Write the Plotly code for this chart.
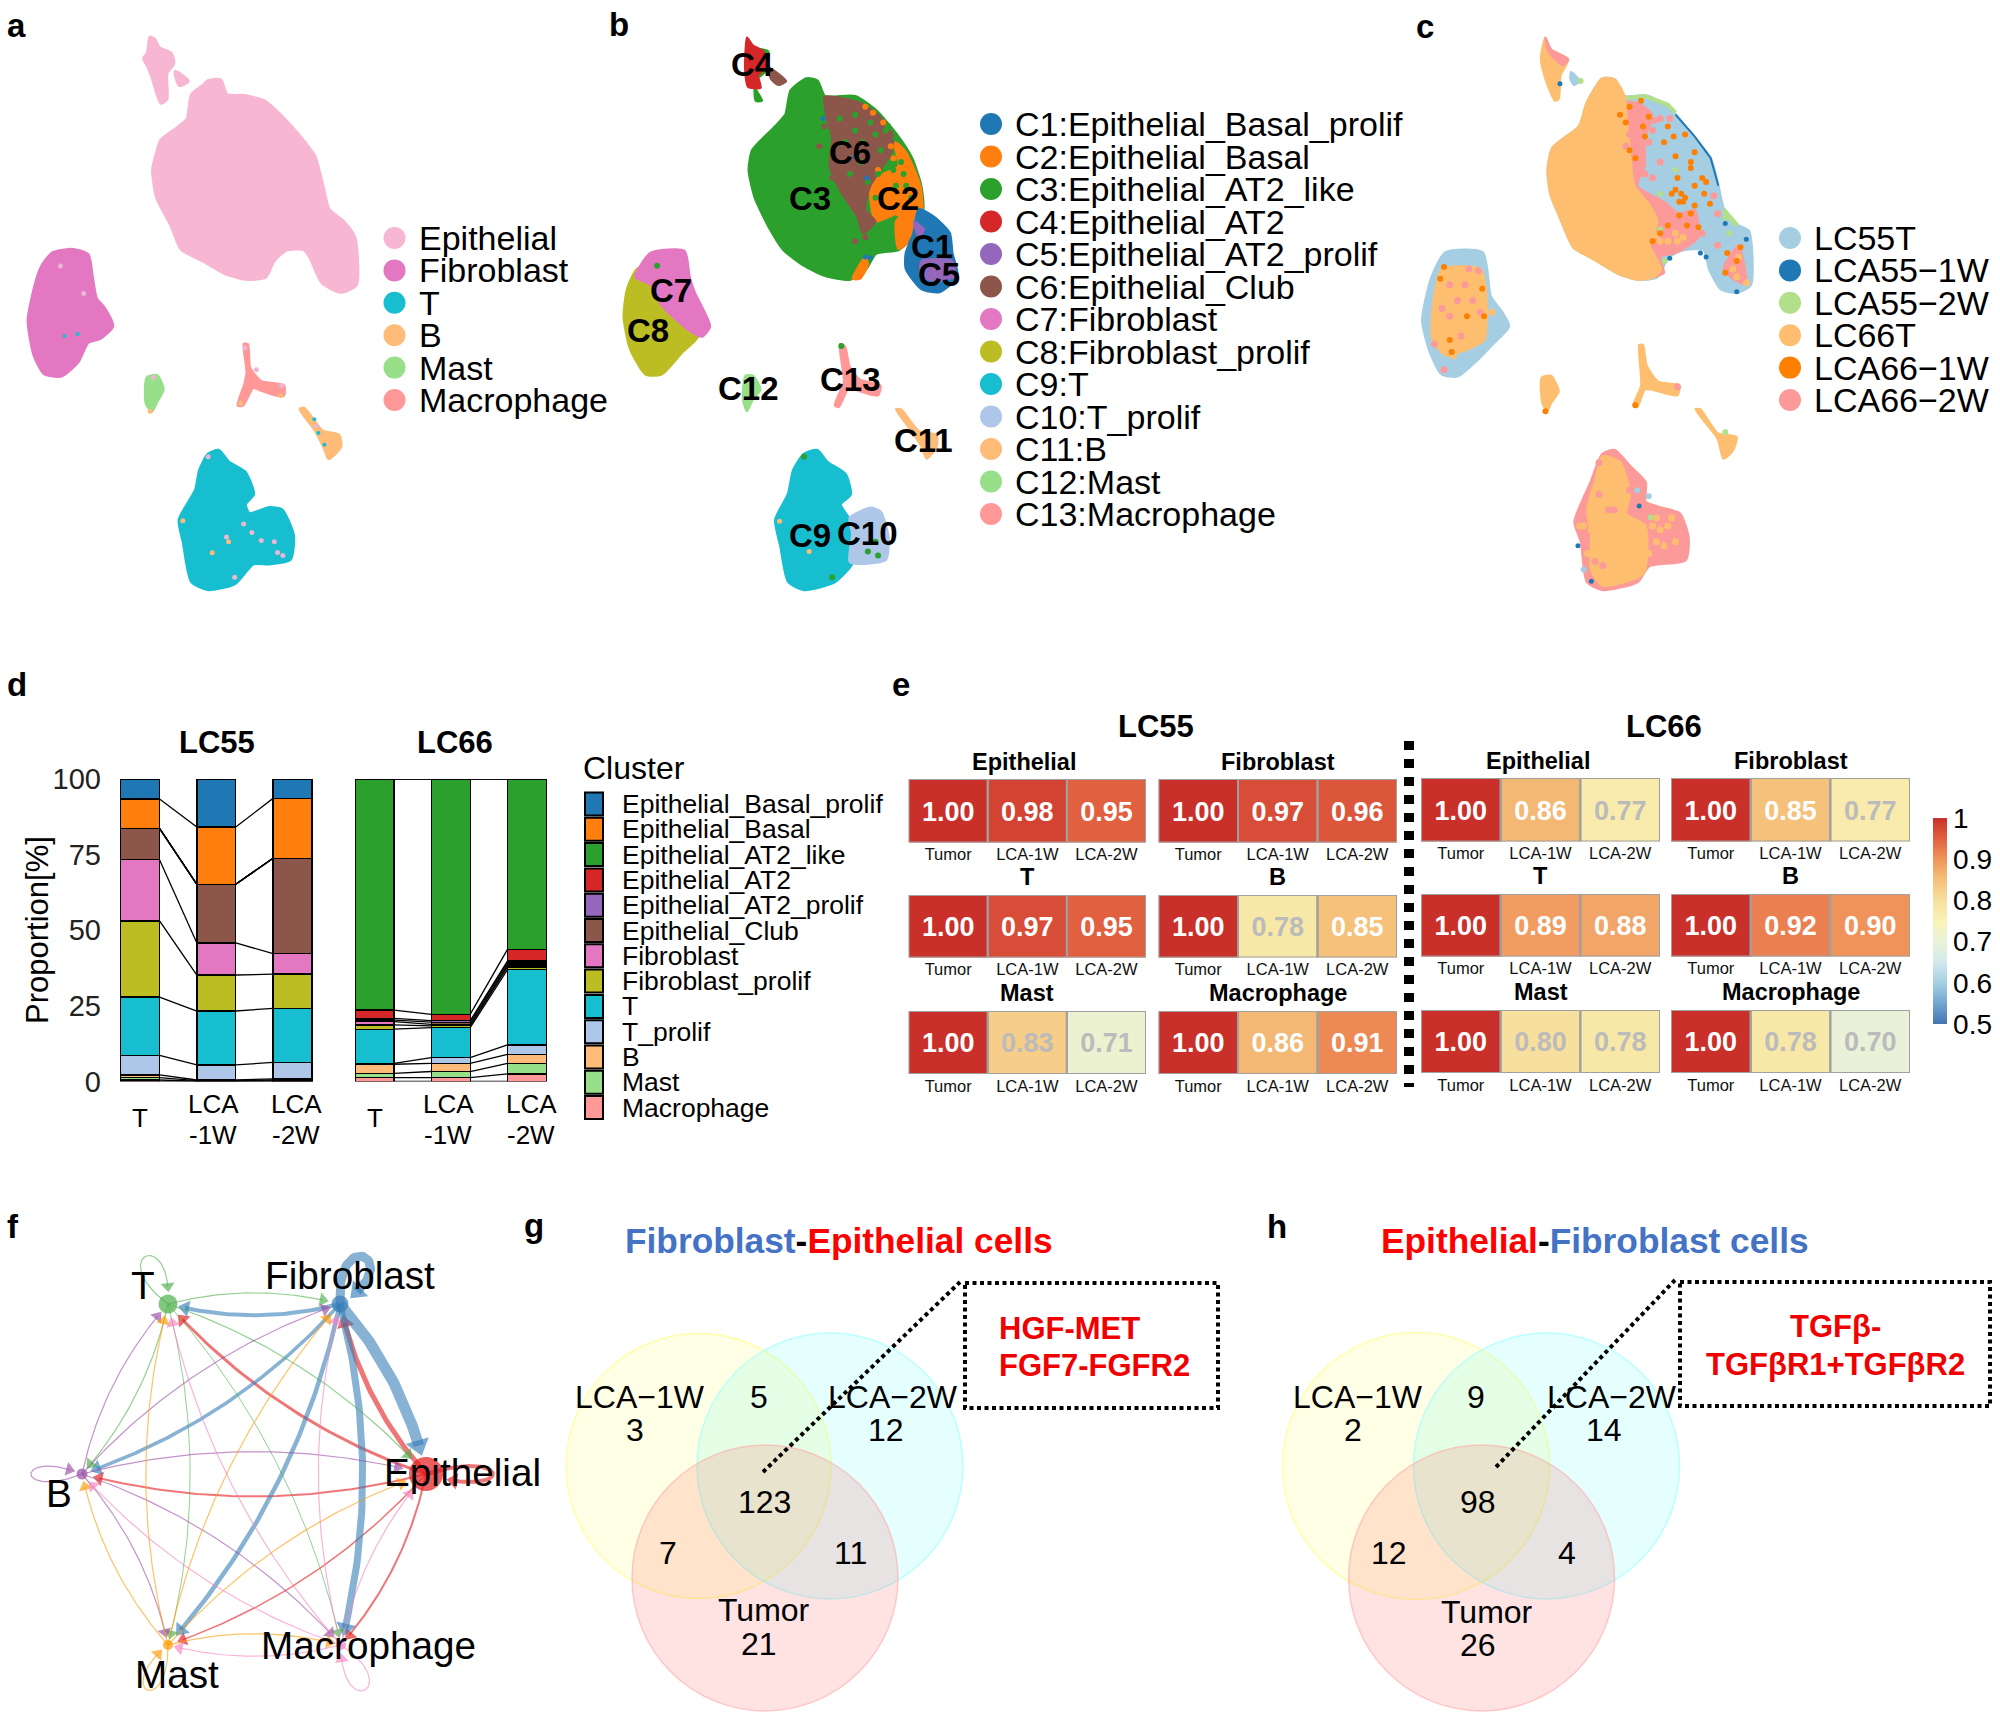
import math
import plotly.graph_objects as go

W, H = 2000, 1719
FONT = "Liberation Sans"

# ---------- panel a : UMAP outlines ----------
A_EPI_MAIN = [(510,205),(540,203),(555,240),(600,243),(650,258),(690,295),(730,340),(770,395),(790,470),(805,530),(840,560),(868,600),(872,720),(835,738),(790,715),(760,650),(745,630),(700,632),(670,660),(650,700),(600,705),(550,690),(500,660),(445,630),(420,570),(385,500),(375,430),(385,385),(395,355),(440,320),(460,300),(470,240),(500,215)]
A_EPI_TOP = [(368,95),(378,100),(390,122),(418,135),(425,160),(408,185),(408,250),(395,260),(385,235),(375,200),(362,165),(353,148),(362,135),(365,115)]
A_EPI_BIT = [(430,182),(460,205),(440,215)]
A_FIB = [(130,640),(180,632),(215,645),(225,700),(235,755),(255,780),(275,825),(245,855),(215,865),(190,915),(150,950),(110,945),(85,900),(70,810),(90,710),(105,670)]
A_MAST = [(360,955),(385,950),(400,985),(385,1015),(372,1040),(358,1020)]
A_MAC = [(598,870),(607,872),(612,930),(640,965),(695,975),(695,1000),(680,1000),(635,985),(620,980),(595,1025),(583,1025),(600,970),(605,940)]
A_B = [(735,1035),(745,1032),(790,1090),(830,1100),(835,1130),(805,1160),(795,1135),(770,1085)]
A_T = [(510,1150),(535,1140),(560,1170),(600,1195),(620,1250),(600,1275),(610,1300),(660,1285),(690,1290),(718,1355),(710,1415),(660,1425),(620,1425),(575,1475),(510,1490),(470,1470),(450,1370),(440,1315),(480,1240),(490,1190)]
A_DOTS_PINK = [(597,1325),(617,1347),(640,1367),(672,1370),(680,1397),(693,1405),(575,1460),(510,1155),(555,1358),(148,673),(205,742),(376,955),(690,975),(600,880),(628,935),(775,1077)]
A_DOTS_PEACH = [(448,1317),(520,1398),(560,1370),(590,1020),(688,1000),(368,1040)]
A_DOTS_TEAL = [(158,850),(190,845),(770,1060),(780,1095),(795,1125)]
A_LEGEND = ["Epithelial", "Fibroblast", "T", "B", "Mast", "Macrophage"]
A_COLORS = ["#f7b6d2", "#e377c2", "#17becf", "#ffbb78", "#98df8a", "#ff9896"]

# ---------- panel b : cluster outlines ----------
B_C3 = [(405,200),(425,205),(440,245),(500,245),(540,280),(580,340),(610,400),(628,470),(632,530),(610,600),(585,630),(540,640),(520,680),(490,705),(440,695),(400,670),(360,630),(335,580),(305,500),(293,430),(300,380),(345,320),(365,290),(375,230)]
B_C6 = [(440,245),(510,260),(545,290),(575,345),(570,390),(555,420),(530,470),(520,530),(540,560),(515,590),(505,550),(470,480),(450,420),(455,350),(445,300)]
B_C2A = [(575,355),(600,385),(628,470),(632,530),(615,600),(585,630),(580,560),(600,530),(540,560),(530,470),(555,440),(585,420)]
B_C2B = [(520,650),(525,670),(510,705),(495,705)]
B_C1 = [(625,530),(655,550),(685,590),(690,640),(700,700),(665,738),(630,730),(600,680),(600,640),(615,590)]
B_C5A = [(630,660),(690,660),(695,700),(660,710),(630,700)]
B_C5B = [(615,560),(635,580),(625,600)]
B_C4 = [(288,95),(300,115),(320,130),(325,170),(310,190),(315,222),(290,220),(285,190),(285,130)]
B_C4G = [(310,125),(330,130),(325,180),(300,210),(318,255),(305,255)]
B_C6T = [(330,170),(365,205),(350,215),(335,200)]
B_C7 = [(100,640),(165,635),(175,700),(185,740),(215,825),(200,850),(170,830),(120,770),(100,720),(70,700)]
B_C8 = [(75,680),(100,720),(120,770),(165,800),(180,840),(205,825),(185,860),(160,890),(120,945),(90,945),(60,880),(48,800),(55,730)]
B_C12 = [(285,950),(300,950),(315,985),(300,1010),(288,1040),(280,1010)]
B_C13 = [(470,870),(480,875),(490,930),(510,960),(550,975),(545,1000),(500,985),(490,975),(468,1030),(460,1025),(478,965),(475,930)]
B_C11 = [(580,1035),(590,1035),(625,1090),(660,1100),(660,1130),(640,1160),(630,1130),(610,1090)]
B_C9 = [(400,1150),(425,1140),(445,1170),(480,1200),(490,1250),(470,1275),(490,1320),(495,1420),(460,1470),(400,1490),(370,1470),(355,1380),(345,1315),(370,1250),(380,1190)]
B_C10 = [(490,1310),(530,1285),(550,1295),(565,1360),(560,1415),(520,1425),(490,1420),(495,1350)]
B_DOTS_GREEN = [(560,330),(550,380),(575,430),(595,440),(600,470),(580,470),(545,440),(510,410),(470,300),(500,330),(530,310),(490,440),(525,460),(610,500),(540,500),(590,410),(565,320),(580,350),(540,340),(515,360),(480,360),(500,290),(525,1395),(545,1405),(455,1460),(400,1155),(540,1370),(473,875),(112,672)]
B_DOTS_BROWN = [(440,320),(430,370),(480,270),(455,450),(520,600),(500,610)]
B_DOTS_BLUE = [(520,650),(530,652),(523,450),(437,300),(500,395),(610,610)]
B_DOTS_ORANGE = [(545,430),(560,450),(575,400),(600,430),(610,450),(620,490),(590,500),(565,490),(545,525),(585,540),(605,520),(520,270),(535,285),(555,310),(570,370)]
B_DOTS_PEACH = [(352,1318),(410,1395)]
B_LABELS = ["C3","C6","C2","C1","C5","C4","C7","C8","C12","C13","C11","C9","C10"]
B_LABEL_X = [412,490,585,650,665,298,140,95,292,490,634,412,525]
B_LABEL_Y = [503,385,503,623,693,163,735,835,982,960,1115,1355,1350]

# ---------- clusters, shared by b and d ----------
CLUSTERS = ["Epithelial_Basal_prolif","Epithelial_Basal","Epithelial_AT2_like","Epithelial_AT2","Epithelial_AT2_prolif","Epithelial_Club","Fibroblast","Fibroblast_prolif","T","T_prolif","B","Mast","Macrophage"]
CL_COLORS = ["#1f77b4","#ff7f0e","#2ca02c","#d62728","#9467bd","#8c564b","#e377c2","#bcbd22","#17becf","#aec7e8","#ffbb78","#98df8a","#ff9896"]

# ---------- panel c : sample outlines and dots ----------
C_MAIN = [(530,200),(560,203),(585,245),(640,243),(700,270),(760,340),(810,400),(830,470),(845,530),(880,570),(910,585),(915,720),(880,738),(840,730),(810,680),(795,630),(735,632),(700,650),(670,700),(620,705),(570,690),(500,650),(455,625),(420,550),(395,490),(388,430),(400,375),(470,320),(490,260)]
C_PEACH = [(530,200),(560,203),(585,245),(590,300),(600,400),(610,470),(650,520),(670,560),(650,620),(680,680),(660,700),(620,705),(570,690),(500,650),(455,625),(420,550),(395,490),(388,430),(400,375),(470,320),(490,260)]
C_PINK = [(570,260),(620,260),(660,290),(640,350),(640,420),(620,470),(690,510),(730,540),(770,530),(780,600),(720,640),(680,650),(690,690),(660,700),(640,630),(670,560),(650,520),(610,470),(600,400),(590,300)]
C_TIP = [(885,620),(905,720),(870,705),(845,680),(860,650)]
C_RIM_GREEN = [(590,248),(640,243),(700,265),(720,285)]
C_RIM_BLUE = [(720,290),(770,345),(812,400),(832,470)]
C_RIM_GREEN2 = [(845,530),(880,570)]
C_TOP = [(380,95),(395,125),(440,150),(420,190),(415,250),(405,255),(380,200),(368,148)]
C_TOP_PINK = [(380,95),(395,125),(440,150),(425,165),(395,140),(385,125)]
C_ISLAND = [(447,182),(470,205),(455,215),(445,200)]
C_FIB = [(120,640),(215,640),(235,750),(265,790),(283,825),(240,870),(200,910),(150,950),(110,945),(80,890),(60,810),(85,700)]
C_FIB_PEACH = [(110,680),(210,680),(225,740),(220,860),(160,890),(120,900),(85,860),(85,780)]
C_MAST = [(370,955),(395,950),(415,990),(395,1020),(385,1040),(372,1020)]
C_MAC = [(625,872),(635,872),(645,925),(675,965),(730,975),(725,1000),(655,985),(640,985),(620,1030),(610,1025),(630,975)]
C_B = [(772,1035),(785,1035),(830,1095),(880,1105),(870,1140),(845,1160),(830,1110)]
C_T = [(530,1150),(560,1140),(600,1180),(640,1220),(640,1270),(680,1285),(730,1300),(752,1360),(745,1415),(650,1430),(620,1470),(530,1490),(490,1470),(475,1370),(458,1320),(500,1220)]
C_T_PEACH = [(530,1155),(575,1170),(600,1250),(590,1300),(640,1330),(635,1450),(530,1480),(500,1440),(500,1350),(490,1290),(510,1220)]
C_DOTS_ORANGE = [(630,255),(600,270),(575,290),(590,310),(635,320),(650,295),(700,320),(715,345),(690,360),(640,345),(600,380),(615,400),(745,340),(770,385),(760,410),(720,395),(725,450),(760,425),(790,450),(800,460),(770,470),(795,490),(720,480),(735,490),(745,500),(710,490),(730,510),(770,520),(810,515),(760,540),(730,545),(750,570),(780,575),(680,590),(660,610),(700,570),(740,510),(850,690),(880,660),(890,625),(855,640),(115,675),(105,705),(215,730),(130,860),(175,800),(135,890),(220,800),(615,1025),(380,1040)]
C_DOTS_PEACH = [(700,610),(720,590),(680,610),(670,595),(725,610),(740,600),(650,600),(870,680),(880,700),(905,715),(885,650),(470,1330),(480,1330),(500,1340),(560,1330),(600,1340),(620,1360),(640,1370),(660,1330),(680,1340),(700,1330),(670,1370),(690,1380),(720,1370),(650,1400),(600,1400),(580,1360),(490,1400),(710,1310),(670,1310),(140,900),(240,790)]
C_DOTS_PINK = [(680,410),(820,495),(830,540),(600,340),(625,375),(590,370),(620,300),(680,300),(660,330),(705,300),(720,600),(705,600),(690,550),(705,540),(610,290),(640,280),(665,305),(610,330),(650,360),(625,410),(640,440),(660,450),(790,590),(830,620),(180,680),(205,685),(90,870),(115,935),(130,800),(160,850),(190,760),(130,720),(170,720),(110,780),(210,790),(150,760),(560,1290),(545,1290),(520,1170),(530,1430),(510,1420),(520,1250),(610,1215),(600,1240),(725,978)]
C_DOTS_GREEN = [(720,430),(680,490),(680,580),(860,590),(850,550),(600,380),(472,205),(655,1308),(850,1093),(692,660)]
C_DOTS_BLUE = [(705,653),(785,640),(800,650),(850,565),(905,605),(880,738),(418,212),(625,1280),(465,1380),(500,1470)]
C_DOTS_LIGHT = [(650,1255),(620,1240),(480,1440),(240,860),(260,820)]
C_LEGEND = ["LC55T","LCA55\u22121W","LCA55\u22122W","LC66T","LCA66\u22121W","LCA66\u22122W"]
C_COLORS = ["#a6cee3","#1f78b4","#b2df8a","#fdbf6f","#ff7f00","#fb9a99"]

# ---------- panel d : proportions, listed in CLUSTERS order ----------
LC55_T = [6.6,9.7,0,0,0,10.4,20.2,25.2,19.3,6.4,0.9,0.8,0.5]
LC55_1W = [15.9,18.9,0,0,0,19.4,10.6,11.9,17.8,5.0,0.2,0.2,0.1]
LC55_2W = [6.4,19.8,0,0,0,31.5,6.8,11.3,17.9,5.4,0.4,0.3,0.2]
LC66_T = [0,0,76.4,2.7,0.6,0.5,1.1,1.4,11.3,0.3,3.0,1.4,1.3]
LC66_1W = [0,0,77.8,2.1,0.5,0.7,0.5,0.6,9.9,1.9,2.7,2.0,1.3]
LC66_2W = [0,0,56.3,3.9,0.6,0.7,0.6,0.9,24.9,3.1,3.0,3.5,2.5]
D_TICKS = [0, 25, 50, 75, 100]
D_GROUP1 = ["T", "LCA", "LCA"]
D_GROUP2 = ["", "-1W", "-2W"]

# ---------- panel e ----------
HEAT_TITLES = ["Epithelial","Fibroblast","T","B","Mast","Macrophage"]
HEAT_LABELS = ["Tumor","LCA-1W","LCA-2W"]
LC55_HEAT = [[1.00,0.98,0.95],[1.00,0.97,0.96],[1.00,0.97,0.95],[1.00,0.78,0.85],[1.00,0.83,0.71],[1.00,0.86,0.91]]
LC66_HEAT = [[1.00,0.86,0.77],[1.00,0.85,0.77],[1.00,0.89,0.88],[1.00,0.92,0.90],[1.00,0.80,0.78],[1.00,0.78,0.70]]

# ---------- panel f ----------
NET_NAMES = ["Epithelial","Fibroblast","T","B","Mast","Macrophage"]
NET_COLORS = ["#e41a1c","#377eb8","#4daf4a","#984ea3","#ff9a00","#f781bf"]
NET_X = [426,340,168,82,168,341]
NET_Y = [1474,1304,1304,1474,1645,1645]
NET_DIAM = [34,17,19,11,10,10]
NET_WEIGHTS = [
    [4.0,5.0,3.0,2.0,1.5,2.0],
    [11.0,9.0,4.0,3.5,4.5,7.0],
    [1.2,1.2,1.2,1.2,1.0,1.0],
    [1.2,1.2,1.2,1.2,1.2,1.2],
    [1.2,1.2,1.2,1.2,1.2,1.3],
    [1.2,1.2,1.2,1.2,1.2,1.2],
]
NET_LOOP_ANGLE = [0,-62,-115,180,115,62]
NET_LOOP_LEN = [70,62,60,55,55,58]
NET_LOOP_SPREAD = [0.3,0.55,0.5,0.38,0.45,0.5]

# ---------- panels g, h ----------
G_TITLE = ('<b><span style="color:#4472c4">Fibroblast</span><span style="color:#000">-</span>'
           '<span style="color:#f00">Epithelial cells</span></b>')
H_TITLE = ('<b><span style="color:#f00">Epithelial</span><span style="color:#000">-</span>'
           '<span style="color:#4472c4">Fibroblast cells</span></b>')
G_TEXTS = ["LCA\u22121W","3","5","LCA\u22122W","12","123","7","11","Tumor","21"]
G_TX = [640,635,759,893,886,764,668,850,764,759]
G_TY = [1397,1430,1397,1397,1430,1502,1553,1553,1610,1644]
H_TEXTS = ["LCA\u22121W","2","9","LCA\u22122W","14","98","12","4","Tumor","26"]
H_TX = [1358,1353,1476,1612,1604,1478,1389,1567,1487,1478]
H_TY = [1397,1430,1397,1397,1430,1502,1553,1553,1612,1645]
G_CIRCLES = [(698.6,1466,132.5),(830,1466,133),(765,1578,133)]
H_CIRCLES = [(1416,1466,133.5),(1546.5,1466,133),(1481.6,1578,133)]
VENN_FILL = ["rgba(255,255,0,0.10)","rgba(0,255,255,0.10)","rgba(255,0,0,0.11)"]
VENN_EDGE = ["rgba(255,255,120,0.6)","rgba(150,255,255,0.6)","rgba(255,170,170,0.6)"]

# ===================================================================
fig = go.Figure()
layout = dict(
    width=W, height=H, margin=dict(l=0, r=0, t=0, b=0, pad=0, autoexpand=False), autosize=False,
    paper_bgcolor="white", plot_bgcolor="rgba(0,0,0,0)", showlegend=False,
    font=dict(family=FONT, color="black"), barmode="stack",
)
shapes, annots = [], []


def make_axis(n, px0, px1, py0, py1, xr, yr, xkw=None, ykw=None):
    sfx = "" if n == 1 else str(n)
    base = dict(showgrid=False, zeroline=False, showline=False, fixedrange=True, visible=False)
    xa = dict(base, domain=[px0 / W, px1 / W], range=xr, anchor="y" + sfx)
    ya = dict(base, domain=[1 - py1 / H, 1 - py0 / H], range=yr, anchor="x" + sfx)
    xa.update(xkw or {})
    ya.update(ykw or {})
    layout["xaxis" + sfx] = xa
    layout["yaxis" + sfx] = ya
    return "x" + sfx, "y" + sfx


def text(t, x, y, size, anchor="center", bold=False, color="black", angle=0):
    annots.append(dict(text=f"<b>{t}</b>" if bold else t, x=x, y=y, xref="x", yref="y",
                       showarrow=False, xanchor=anchor, yanchor="middle", textangle=angle,
                       font=dict(size=size, family=FONT, color=color)))


def poly(ax, pts, color, lw=2):
    fig.add_trace(go.Scatter(x=[p[0] for p in pts] + [pts[0][0]], y=[p[1] for p in pts] + [pts[0][1]],
                             mode="lines", fill="toself", fillcolor=color,
                             line=dict(color=color, width=lw, shape="spline", smoothing=0.6),
                             xaxis=ax[0], yaxis=ax[1], hoverinfo="skip"))


def dots(ax, pts, color, size=5):
    fig.add_trace(go.Scatter(x=[p[0] for p in pts], y=[p[1] for p in pts], mode="markers",
                             marker=dict(color=color, size=size, line=dict(width=0)),
                             xaxis=ax[0], yaxis=ax[1], hoverinfo="skip"))


def rim(ax, pts, color, lw=3):
    fig.add_trace(go.Scatter(x=[p[0] for p in pts], y=[p[1] for p in pts], mode="lines",
                             line=dict(color=color, width=lw), xaxis=ax[0], yaxis=ax[1], hoverinfo="skip"))


# overlay axis in page pixels, carries text, keys, network and Venn
OV = make_axis(1, 0, W, 0, H, [0, W], [H, 0])

# --- panel a
AX_A = make_axis(2, 0, 640, 0, 620, [0, 1568], [1568, 0])
for shape in (A_EPI_MAIN, A_EPI_TOP, A_EPI_BIT):
    poly(AX_A, shape, A_COLORS[0], 4)
poly(AX_A, A_FIB, A_COLORS[1], 4)
poly(AX_A, A_T, A_COLORS[2], 4)
poly(AX_A, A_B, A_COLORS[3], 3)
poly(AX_A, A_MAST, A_COLORS[4], 3)
poly(AX_A, A_MAC, A_COLORS[5], 3)
dots(AX_A, A_DOTS_PINK, "#eab8d4")
dots(AX_A, A_DOTS_PEACH, A_COLORS[3])
dots(AX_A, A_DOTS_TEAL, A_COLORS[2], 4)

# --- panel b
AX_B = make_axis(3, 600, 1400, 0, 620, [0, 1568], [1568, 0])
C_ = dict(zip(range(1, 14), CL_COLORS))
poly(AX_B, B_C3, C_[3], 4)
poly(AX_B, B_C2A, C_[2], 2)
poly(AX_B, B_C2B, C_[2], 2)
poly(AX_B, B_C6, C_[6], 2)
poly(AX_B, B_C1, C_[1], 3)
poly(AX_B, B_C5A, C_[5], 2)
poly(AX_B, B_C5B, C_[5], 2)
poly(AX_B, B_C4G, C_[3], 2)
poly(AX_B, B_C4, C_[4], 2)
poly(AX_B, B_C6T, C_[6], 2)
poly(AX_B, B_C8, C_[8], 4)
poly(AX_B, B_C7, C_[7], 3)
poly(AX_B, B_C12, C_[12], 2)
poly(AX_B, B_C13, C_[13], 2)
poly(AX_B, B_C11, C_[11], 2)
poly(AX_B, B_C9, C_[9], 4)
poly(AX_B, B_C10, C_[10], 3)
dots(AX_B, B_DOTS_ORANGE, C_[2], 6)
dots(AX_B, B_DOTS_GREEN, C_[3], 6)
dots(AX_B, B_DOTS_BROWN, C_[6], 6)
dots(AX_B, B_DOTS_BLUE, C_[1], 5)
dots(AX_B, B_DOTS_PEACH, C_[11], 5)
for t, x, y in zip(B_LABELS, B_LABEL_X, B_LABEL_Y):
    text(t, 600 + x * 800 / 1568, y * 620 / 1568, 33, bold=True)

# --- panel c
AX_C = make_axis(4, 1400, 2000, 0, 620, [0, 1568], [1568, 0])
cc = C_COLORS
poly(AX_C, C_MAIN, cc[0], 4)
rim(AX_C, C_RIM_GREEN, cc[2], 4)
rim(AX_C, C_RIM_BLUE, cc[1], 2)
rim(AX_C, C_RIM_GREEN2, cc[2], 5)
poly(AX_C, C_PINK, cc[5], 2)
poly(AX_C, C_PEACH, cc[3], 4)
poly(AX_C, C_TIP, cc[5], 2)
poly(AX_C, C_TOP, cc[3], 2)
poly(AX_C, C_TOP_PINK, cc[5], 2)
poly(AX_C, C_ISLAND, cc[0], 2)
poly(AX_C, C_FIB, cc[0], 4)
poly(AX_C, C_FIB_PEACH, cc[3], 2)
poly(AX_C, C_MAST, cc[3], 2)
poly(AX_C, C_MAC, cc[3], 2)
poly(AX_C, C_B, cc[3], 2)
poly(AX_C, C_T, cc[5], 4)
poly(AX_C, C_T_PEACH, cc[3], 3)
dots(AX_C, C_DOTS_LIGHT, cc[0], 6)
dots(AX_C, C_DOTS_PINK, cc[5], 7)
dots(AX_C, C_DOTS_PEACH, cc[3], 7)
dots(AX_C, C_DOTS_GREEN, cc[2], 6)
dots(AX_C, C_DOTS_BLUE, cc[1], 5)
dots(AX_C, C_DOTS_ORANGE, cc[4], 6)


def circle_legend(names, colors, kx, tx, y0, dy):
    ys = [y0 + i * dy for i in range(len(names))]
    fig.add_trace(go.Scatter(x=[kx] * len(names), y=ys, mode="markers",
                             marker=dict(color=colors, size=22, line=dict(width=0)),
                             xaxis=OV[0], yaxis=OV[1], hoverinfo="skip"))
    for n, y in zip(names, ys):
        text(n, tx, y, 34, anchor="left")


circle_legend(A_LEGEND, A_COLORS, 394.5, 416.5, 238, 32.4)
circle_legend([f"C{i+1}:{c}" for i, c in enumerate(CLUSTERS)], CL_COLORS, 991, 1012.5, 124, 32.5)
circle_legend(C_LEGEND, C_COLORS, 1790, 1812, 238, 32.4)

# --- panel d
BAR_W = 0.51
D_TICKFONT = dict(size=29, family=FONT, color="#222")
AX_D1 = make_axis(5, 102, 330.6, 779, 1081.5, [-0.5, 2.5], [0, 100],
                  ykw=dict(visible=True, tickvals=D_TICKS, ticks="", tickfont=D_TICKFONT, ticklen=0))
AX_D2 = make_axis(6, 336.5, 565, 779, 1081.5, [-0.5, 2.5], [0, 100])


def stacked(ax, cols):
    for k in range(len(CLUSTERS) - 1, -1, -1):
        fig.add_trace(go.Bar(x=[0, 1, 2], y=[c[k] for c in cols], width=BAR_W,
                             marker=dict(color=CL_COLORS[k], line=dict(color="black", width=1.3)),
                             xaxis=ax[0], yaxis=ax[1], hoverinfo="skip"))
    for i in range(2):
        for k in range(len(CLUSTERS)):
            a = sum(cols[i][k + 1:])
            b = sum(cols[i + 1][k + 1:])
            fig.add_trace(go.Scatter(x=[i + BAR_W / 2, i + 1 - BAR_W / 2], y=[a, b], mode="lines",
                                     line=dict(color="black", width=1.3),
                                     xaxis=ax[0], yaxis=ax[1], hoverinfo="skip"))


stacked(AX_D1, [LC55_T, LC55_1W, LC55_2W])
stacked(AX_D2, [LC66_T, LC66_1W, LC66_2W])
text("LC55", 217, 742, 31, bold=True)
text("LC66", 455, 742, 31, bold=True)
text("Proportion[%]", 37, 930, 31, angle=-90)
for xs in ([140, 213, 296], [375, 448, 531]):
    text(D_GROUP1[0], xs[0], 1118, 26)
    for i in (1, 2):
        text(D_GROUP1[i], xs[i], 1104, 26)
        text(D_GROUP2[i], xs[i], 1135, 26)
text("Cluster", 581, 768, 32, anchor="left")
for i, (n, c) in enumerate(zip(CLUSTERS, CL_COLORS)):
    y = 804 + i * 25.3
    shapes.append(dict(type="rect", xref="x", yref="y", x0=585, x1=603, y0=y - 11.5, y1=y + 11.5,
                       fillcolor=c, line=dict(color="black", width=2)))
    text(n, 620, y, 26.5, anchor="left")

# --- panel e
HEAT_COLORS = [[0.0,"#4575b4"],[0.1,"#73a6cf"],[0.2,"#a5cfe3"],[0.3,"#d2e9ec"],[0.4,"#e9f2d8"],
               [0.5,"#f9f3b6"],[0.6,"#f7e09d"],[0.7,"#f5c17b"],[0.8,"#f0935b"],[0.9,"#e0603f"],[1.0,"#c9302a"]]
layout["coloraxis"] = dict(cmin=0.5, cmax=1, colorscale=HEAT_COLORS, colorbar=dict(
    x=1933 / W, xanchor="left", y=1 - 1024 / H, yanchor="bottom", len=206, lenmode="pixels",
    thickness=14, thicknessmode="pixels", outlinewidth=0, xpad=0, ypad=0, ticks="",
    tickvals=[0.5, 0.6, 0.7, 0.8, 0.9, 1], ticktext=["0.5", "0.6", "0.7", "0.8", "0.9", "1"],
    tickfont=dict(size=28, family=FONT, color="black")))
HEAT_COL_X = [(908.6, 1146), (1158.5, 1397), (1421, 1660), (1671, 1910)]
HEAT_ROW_Y = [(779, 842.5), (895, 957.5), (1011, 1074)]
HEAT_TITLE_Y = [762, 877, 993]
axn = 7
for side, vals in enumerate((LC55_HEAT, LC66_HEAT)):
    shift = -1 if side else 0
    for idx, row in enumerate(vals):
        cx0, cx1 = HEAT_COL_X[side * 2 + idx % 2]
        ry0, ry1 = HEAT_ROW_Y[idx // 2]
        ax = make_axis(axn, cx0, cx1, ry0 + shift, ry1 + shift, [-0.5, 2.5], [-0.5, 0.5],
                       xkw=dict(visible=True, tickvals=[0, 1, 2], ticktext=HEAT_LABELS, ticks="", ticklen=0,
                                tickangle=0, tickfont=dict(size=16.5, family=FONT, color="#111")))
        fig.add_trace(go.Heatmap(z=[row], x=[0, 1, 2], y=[0], coloraxis="coloraxis",
                                 xaxis=ax[0], yaxis=ax[1], hoverinfo="skip"))
        fig.add_trace(go.Scatter(x=[0, 1, 2], y=[-0.05] * 3, mode="text", text=[f"{v:.2f}" for v in row],
                                 textfont=dict(size=27, family=FONT, weight="bold",
                                               color=["#bbbbbb" if v <= 0.83 else "white" for v in row]),
                                 xaxis=ax[0], yaxis=ax[1], hoverinfo="skip"))
        for i in range(3):
            shapes.append(dict(type="rect", xref=ax[0], yref=ax[1], x0=i - 0.5, x1=i + 0.5, y0=-0.5, y1=0.5,
                               line=dict(color="#a0a0a0", width=2), fillcolor="rgba(0,0,0,0)"))
        title_dx = -3 if idx == 0 else 0
        text(HEAT_TITLES[idx], (cx0 + cx1) / 2 + title_dx, HEAT_TITLE_Y[idx // 2] + shift, 23.5, bold=True)
        axn += 1
text("LC55", 1156, 726, 31, bold=True)
text("LC66", 1664, 726, 31, bold=True)
shapes.append(dict(type="line", xref="x", yref="y", x0=1409, x1=1409, y0=741, y1=1087,
                   line=dict(color="black", width=10, dash="9px,9px")))


# --- panel f
def rgba(hex_color, a):
    r, g, b = (int(hex_color[i:i + 2], 16) for i in (1, 3, 5))
    return f"rgba({r},{g},{b},{a})"


def arrow(x, y, dx, dy, size, color):
    ang = math.degrees(math.atan2(dx, -dy))
    fig.add_trace(go.Scatter(x=[x], y=[y], mode="markers",
                             marker=dict(symbol="triangle-up", size=size, angle=ang, color=rgba(color, 0.65),
                                         line=dict(width=0)),
                             xaxis=OV[0], yaxis=OV[1], hoverinfo="skip"))


def bez_line(pts, width, color):
    fig.add_trace(go.Scatter(x=[p[0] for p in pts], y=[p[1] for p in pts], mode="lines",
                             line=dict(color=rgba(color, 0.6), width=width),
                             xaxis=OV[0], yaxis=OV[1], hoverinfo="skip"))


STEPS = [i / 60 for i in range(61)]
for s, name in enumerate(NET_NAMES):
    col = NET_COLORS[s]
    sx, sy = NET_X[s], NET_Y[s]
    for t in range(6):
        w = NET_WEIGHTS[s][t]
        asize = 11 + w * 0.9
        if s == t:
            a = math.radians(NET_LOOP_ANGLE[s])
            c = NET_LOOP_LEN[s] / 0.75
            sp = NET_LOOP_SPREAD[s]
            c1 = (sx + c * math.cos(a - sp), sy + c * math.sin(a - sp))
            c2 = (sx + c * math.cos(a + sp), sy + c * math.sin(a + sp))
            pts = []
            for u in STEPS:
                v = 1 - u
                pts.append((v**3 * sx + 3 * v * v * u * c1[0] + 3 * v * u * u * c2[0] + u**3 * sx,
                            v**3 * sy + 3 * v * v * u * c1[1] + 3 * v * u * u * c2[1] + u**3 * sy))
        else:
            tx, ty = NET_X[t], NET_Y[t]
            dx, dy = tx - sx, ty - sy
            cx, cy = (sx + tx) / 2 + 0.13 * dy, (sy + ty) / 2 - 0.13 * dx
            pts = [((1 - u)**2 * sx + 2 * u * (1 - u) * cx + u * u * tx,
                    (1 - u)**2 * sy + 2 * u * (1 - u) * cy + u * u * ty) for u in STEPS]
        rt = NET_DIAM[t] / 2
        keep = [p for i, p in enumerate(pts) if math.hypot(p[0] - NET_X[t], p[1] - NET_Y[t]) > rt + asize * 0.55 or i < 30]
        bez_line(keep, w, col)
        arrow(keep[-1][0], keep[-1][1], keep[-1][0] - keep[-2][0], keep[-1][1] - keep[-2][1], asize, col)
fig.add_trace(go.Scatter(x=NET_X, y=NET_Y, mode="markers",
                         marker=dict(color=NET_COLORS, size=NET_DIAM, line=dict(width=0)),
                         xaxis=OV[0], yaxis=OV[1], hoverinfo="skip"))
text("T", 143, 1285, 38.7)
text("Fibroblast", 350, 1275, 38.7)
text("Epithelial", 462, 1472, 38.7)
text("B", 59, 1493, 38.7)
text("Macrophage", 368, 1645, 38.7)
text("Mast", 177, 1674, 38.7)


# --- panels g, h
def venn(circles, texts, tx, ty):
    for (cx, cy, r), f, e in zip(circles, VENN_FILL, VENN_EDGE):
        shapes.append(dict(type="circle", xref="x", yref="y", x0=cx - r, x1=cx + r, y0=cy - r, y1=cy + r,
                           fillcolor=f, line=dict(color=e, width=1.5)))
    for t, x, y in zip(texts, tx, ty):
        text(t, x, y, 32)


venn(G_CIRCLES, G_TEXTS, G_TX, G_TY)
venn(H_CIRCLES, H_TEXTS, H_TX, H_TY)
text(G_TITLE, 839, 1240, 35.3)
text(H_TITLE, 1595, 1240, 35.3)
DOT = dict(color="black", width=4, dash="4px,3.5px")
shapes.append(dict(type="rect", xref="x", yref="y", x0=965, x1=1218, y0=1283, y1=1408, line=DOT, fillcolor="rgba(0,0,0,0)"))
shapes.append(dict(type="line", xref="x", yref="y", x0=763, y0=1472, x1=960, y1=1282, line=DOT))
shapes.append(dict(type="rect", xref="x", yref="y", x0=1680, x1=1990, y0=1282, y1=1406, line=DOT, fillcolor="rgba(0,0,0,0)"))
shapes.append(dict(type="line", xref="x", yref="y", x0=1496, y0=1467, x1=1675, y1=1280, line=DOT))
text("HGF-MET", 996.5, 1328, 31, anchor="left", bold=True, color="#f00000")
text("FGF7-FGFR2", 996.5, 1365, 31, anchor="left", bold=True, color="#f00000")
text("TGF\u03b2-", 1835, 1326, 31, bold=True, color="#f00000")
text("TGF\u03b2R1+TGF\u03b2R2", 1835, 1364, 31, bold=True, color="#f00000")

# --- panel letters
PANEL_LETTERS = ["a", "b", "c", "d", "e", "f", "g", "h"]
LETTER_X = [16, 619, 1425, 17, 901, 13, 534, 1277]
LETTER_Y = [25, 24, 26, 684, 684, 1226, 1225, 1226]
for t, x, y in zip(PANEL_LETTERS, LETTER_X, LETTER_Y):
    text(t, x, y, 33, bold=True)

layout["shapes"] = shapes
layout["annotations"] = annots
fig.update_layout(**layout)
fig.write_html("out.html", config={"displayModeBar": False},
               post_script="document.body.style.margin='0';")
